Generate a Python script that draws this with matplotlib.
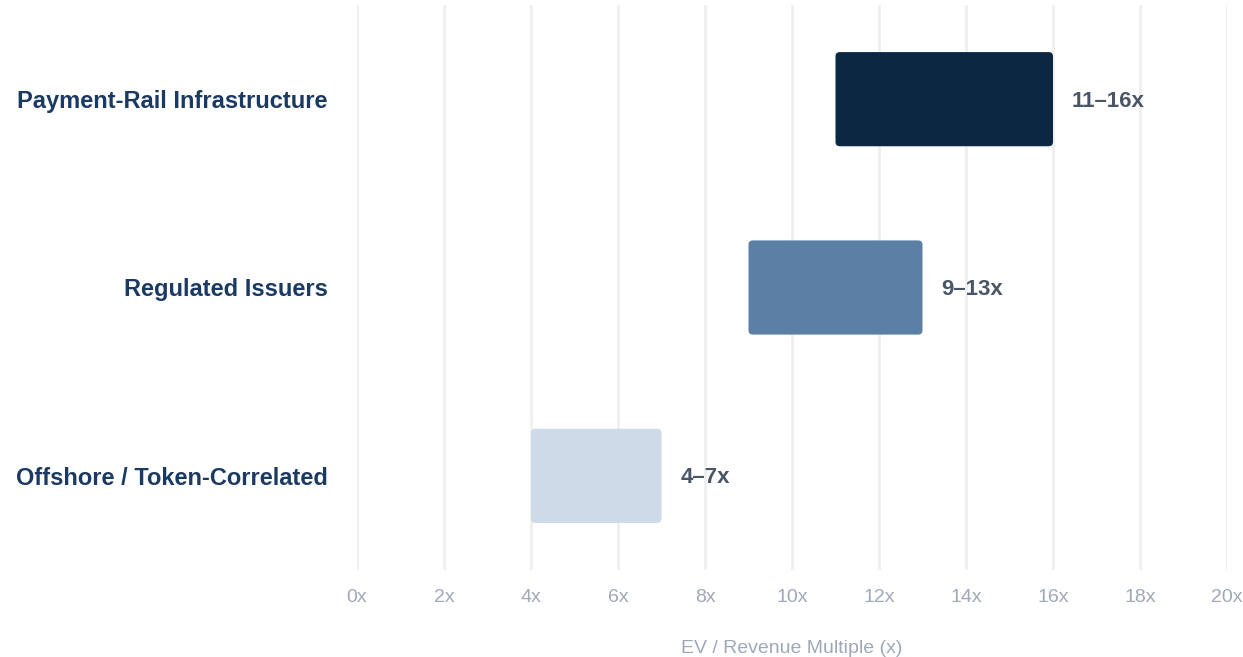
import matplotlib.pyplot as plt
from matplotlib.patches import FancyBboxPatch
from matplotlib.transforms import offset_copy

plt.rcParams['font.family'] = ['Liberation Sans', 'DejaVu Sans']

# data
categories = ['Payment-Rail Infrastructure', 'Regulated Issuers', 'Offshore / Token-Correlated']
low = [11, 9, 4]
high = [16, 13, 7]
labels = ['11–16x', '9–13x', '4–7x']
colors = ['#0b2742', '#5b7fa5', '#cddbe8']
ticks = list(range(0, 21, 2))

fig = plt.figure(figsize=(12.43, 6.57), dpi=100)
ax = fig.add_axes([357 / 1243, 1 - 570 / 657, 870 / 1243, 565 / 657])

ax.set_xlim(0, 20)
ax.set_ylim(len(categories) - 0.5, -0.5)

# rounded bars (aspect correction so corners look round in pixels)
aspect = (20 / 870) / (3 / 565)
bar_h = 0.5
for i, (lo, hi, c) in enumerate(zip(low, high, colors)):
    p = FancyBboxPatch((lo, i - bar_h / 2), hi - lo, bar_h,
                       boxstyle='round,pad=0,rounding_size=0.1',
                       mutation_aspect=1 / aspect,
                       facecolor=c, edgecolor='none', zorder=3)
    ax.add_patch(p)
    tr = offset_copy(ax.transData, fig=fig, x=19, y=-2, units='dots')
    ax.text(hi, i, labels[i], transform=tr, ha='left', va='center',
            fontsize=16, fontweight='bold', color='#4a5568')

ax.set_yticks(range(len(categories)))
ax.set_yticklabels(categories, fontsize=17, fontweight='bold', color='#1b3a63')
ax.set_xticks(ticks)
ax.set_xticklabels([f'{t}x' for t in ticks], fontsize=14, color='#a0a8b8')
ax.tick_params(axis='both', length=0)
ax.tick_params(axis='y', pad=21)
ax.tick_params(axis='x', pad=14)

ax.grid(axis='x', color='#efefef', linewidth=2, zorder=0)
ax.set_axisbelow(True)
for s in ax.spines.values():
    s.set_visible(False)

ax.set_xlabel('EV / Revenue Multiple (x)', fontsize=14, color='#a0a8b8', labelpad=24)

fig.savefig('out.png', dpi=100)
